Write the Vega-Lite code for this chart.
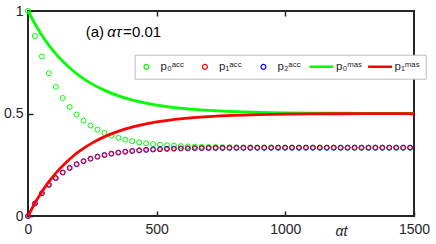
{
  "$schema": "https://vega.github.io/schema/vega-lite/v6.json",
  "width": 386,
  "height": 205,
  "autosize": {"type": "none"},
  "padding": {"left": 28, "top": 11, "right": 22, "bottom": 28},
  "background": "white",
  "config": {
    "view": {"stroke": "#262626", "strokeWidth": 2},
    "font": "Liberation Sans",
    "axis": {"grid": false, "domain": false, "tickColor": "#262626", "tickWidth": 1.5, "tickSize": -5, "labelColor": "#262626", "labelFont": "Liberation Sans", "labelFontSize": 14, "labelFlush": false, "labelOverlap": false}
  },
  "datasets": {
    "acc": [
      {"t": 0, "p0": 1, "p1": 0, "p2": 0},
      {"t": 27, "p0": 0.8778, "p1": 0.0611, "p2": 0.0611},
      {"t": 54, "p0": 0.778, "p1": 0.111, "p2": 0.111},
      {"t": 81, "p0": 0.6965, "p1": 0.1518, "p2": 0.1518},
      {"t": 108, "p0": 0.6299, "p1": 0.185, "p2": 0.185},
      {"t": 135, "p0": 0.5755, "p1": 0.2122, "p2": 0.2122},
      {"t": 162, "p0": 0.5311, "p1": 0.2344, "p2": 0.2344},
      {"t": 189, "p0": 0.4949, "p1": 0.2526, "p2": 0.2526},
      {"t": 216, "p0": 0.4653, "p1": 0.2674, "p2": 0.2674},
      {"t": 243, "p0": 0.4411, "p1": 0.2795, "p2": 0.2795},
      {"t": 270, "p0": 0.4213, "p1": 0.2893, "p2": 0.2893},
      {"t": 297, "p0": 0.4052, "p1": 0.2974, "p2": 0.2974},
      {"t": 324, "p0": 0.392, "p1": 0.304, "p2": 0.304},
      {"t": 351, "p0": 0.3813, "p1": 0.3094, "p2": 0.3094},
      {"t": 378, "p0": 0.3725, "p1": 0.3138, "p2": 0.3138},
      {"t": 405, "p0": 0.3653, "p1": 0.3173, "p2": 0.3173},
      {"t": 432, "p0": 0.3594, "p1": 0.3203, "p2": 0.3203},
      {"t": 459, "p0": 0.3547, "p1": 0.3227, "p2": 0.3227},
      {"t": 486, "p0": 0.3507, "p1": 0.3246, "p2": 0.3246},
      {"t": 513, "p0": 0.3476, "p1": 0.3262, "p2": 0.3262},
      {"t": 540, "p0": 0.3449, "p1": 0.3275, "p2": 0.3275},
      {"t": 567, "p0": 0.3428, "p1": 0.3286, "p2": 0.3286},
      {"t": 594, "p0": 0.3411, "p1": 0.3295, "p2": 0.3295},
      {"t": 621, "p0": 0.3397, "p1": 0.3302, "p2": 0.3302},
      {"t": 648, "p0": 0.3385, "p1": 0.3308, "p2": 0.3308},
      {"t": 675, "p0": 0.3376, "p1": 0.3312, "p2": 0.3312},
      {"t": 702, "p0": 0.3368, "p1": 0.3316, "p2": 0.3316},
      {"t": 729, "p0": 0.3361, "p1": 0.3319, "p2": 0.3319},
      {"t": 756, "p0": 0.3356, "p1": 0.3322, "p2": 0.3322},
      {"t": 783, "p0": 0.3352, "p1": 0.3324, "p2": 0.3324},
      {"t": 810, "p0": 0.3349, "p1": 0.3326, "p2": 0.3326},
      {"t": 837, "p0": 0.3346, "p1": 0.3327, "p2": 0.3327},
      {"t": 864, "p0": 0.3344, "p1": 0.3328, "p2": 0.3328},
      {"t": 891, "p0": 0.3342, "p1": 0.3329, "p2": 0.3329},
      {"t": 918, "p0": 0.3341, "p1": 0.333, "p2": 0.333},
      {"t": 945, "p0": 0.334, "p1": 0.3331, "p2": 0.3331},
      {"t": 972, "p0": 0.3339, "p1": 0.3331, "p2": 0.3331},
      {"t": 999, "p0": 0.3338, "p1": 0.3332, "p2": 0.3332},
      {"t": 1026, "p0": 0.3337, "p1": 0.3332, "p2": 0.3332},
      {"t": 1053, "p0": 0.3336, "p1": 0.3332, "p2": 0.3332},
      {"t": 1080, "p0": 0.3336, "p1": 0.3333, "p2": 0.3333},
      {"t": 1107, "p0": 0.3335, "p1": 0.3333, "p2": 0.3333},
      {"t": 1134, "p0": 0.3335, "p1": 0.3333, "p2": 0.3333},
      {"t": 1161, "p0": 0.3334, "p1": 0.3333, "p2": 0.3333},
      {"t": 1188, "p0": 0.3334, "p1": 0.3333, "p2": 0.3333},
      {"t": 1215, "p0": 0.3334, "p1": 0.3333, "p2": 0.3333},
      {"t": 1242, "p0": 0.3334, "p1": 0.3333, "p2": 0.3333},
      {"t": 1269, "p0": 0.3333, "p1": 0.3333, "p2": 0.3333},
      {"t": 1296, "p0": 0.3333, "p1": 0.3333, "p2": 0.3333},
      {"t": 1323, "p0": 0.3333, "p1": 0.3333, "p2": 0.3333},
      {"t": 1350, "p0": 0.3333, "p1": 0.3333, "p2": 0.3333},
      {"t": 1377, "p0": 0.3333, "p1": 0.3333, "p2": 0.3333},
      {"t": 1404, "p0": 0.3333, "p1": 0.3333, "p2": 0.3333},
      {"t": 1431, "p0": 0.3333, "p1": 0.3333, "p2": 0.3333},
      {"t": 1458, "p0": 0.3333, "p1": 0.3333, "p2": 0.3333},
      {"t": 1485, "p0": 0.3333, "p1": 0.3333, "p2": 0.3333}
    ],
    "mas": [
      {"t": 0, "m0": 1, "m1": 0},
      {"t": 25, "m0": 0.9413, "m1": 0.0588},
      {"t": 50, "m0": 0.8894, "m1": 0.1106},
      {"t": 75, "m0": 0.8436, "m1": 0.1564},
      {"t": 100, "m0": 0.8033, "m1": 0.1967},
      {"t": 125, "m0": 0.7676, "m1": 0.2324},
      {"t": 150, "m0": 0.7362, "m1": 0.2638},
      {"t": 175, "m0": 0.7084, "m1": 0.2916},
      {"t": 200, "m0": 0.6839, "m1": 0.3161},
      {"t": 250, "m0": 0.6433, "m1": 0.3567},
      {"t": 300, "m0": 0.6116, "m1": 0.3884},
      {"t": 350, "m0": 0.5869, "m1": 0.4131},
      {"t": 400, "m0": 0.5677, "m1": 0.4323},
      {"t": 450, "m0": 0.5527, "m1": 0.4473},
      {"t": 500, "m0": 0.541, "m1": 0.459},
      {"t": 600, "m0": 0.5249, "m1": 0.4751},
      {"t": 700, "m0": 0.5151, "m1": 0.4849},
      {"t": 800, "m0": 0.5092, "m1": 0.4908},
      {"t": 900, "m0": 0.5056, "m1": 0.4944},
      {"t": 1000, "m0": 0.5034, "m1": 0.4966},
      {"t": 1100, "m0": 0.502, "m1": 0.498},
      {"t": 1200, "m0": 0.5012, "m1": 0.4988},
      {"t": 1300, "m0": 0.5008, "m1": 0.4992},
      {"t": 1400, "m0": 0.5005, "m1": 0.4995},
      {"t": 1500, "m0": 0.5003, "m1": 0.4997}
    ],
    "ann": [{"t": 260, "p": 0.898}]
  },
  "layer": [
    {
      "data": {"name": "acc"},
      "mark": {"type": "point", "filled": false, "size": 25, "strokeWidth": 1, "opacity": 1},
      "encoding": {
        "x": {"field": "t", "type": "quantitative", "scale": {"domain": [0, 1500], "nice": false, "zero": false},
          "axis": {"orient": "bottom", "values": [0, 500, 1000, 1500], "format": "d", "labelPadding": 11, "title": "αt", "titleFont": "Liberation Sans", "titleFontStyle": "italic", "titleFontWeight": "normal", "titleFontSize": 14, "titleColor": "#262626", "titleX": 313, "titleY": 15, "titleBaseline": "middle", "titleAlign": "center"}},
        "y": {"field": "p0", "type": "quantitative", "scale": {"domain": [0, 1], "nice": false},
          "axis": {"orient": "left", "values": [0, 0.5, 1], "format": "~g", "labelPadding": 10, "title": null}},
        "shape": {"datum": "p0acc", "type": "nominal",
          "scale": {"domain": ["p0acc", "p1acc", "p2acc", "p0mas", "p1mas"], "range": ["circle", "circle", "circle", "M-4.7,-0.25H4.4V0.25H-4.7Z", "M-4.7,-0.25H4.4V0.25H-4.7Z"]}},
        "color": {"datum": "p0acc", "type": "nominal",
          "scale": {"domain": ["p0acc", "p1acc", "p2acc", "p0mas", "p1mas"], "range": ["#00ff00", "#ff0000", "#0000ff", "#00ff00", "#ff0000"]},
          "legend": {
            "orient": "none", "legendX": 106.7, "legendY": 43.7, "direction": "horizontal", "columns": 5, "gridAlign": "all", "title": null,
            "symbolSize": 25, "symbolStrokeWidth": 1.2, "labelOffset": 8.3, "columnPadding": 3.5, "padding": 6,
            "strokeColor": "#bdbdbd", "fillColor": "#ffffff",
            "labelFont": "Liberation Sans", "labelFontSize": 11.5, "labelColor": "#262626",
            "labelExpr": "datum.label == 'p0acc' ? 'p₀ᵃᶜᶜ' : datum.label == 'p1acc' ? 'p₁ᵃᶜᶜ' : datum.label == 'p2acc' ? 'p₂ᵃᶜᶜ' : datum.label == 'p0mas' ? 'p₀ᵐᵃˢ' : 'p₁ᵐᵃˢ'"
          }
        }
      }
    },
    {
      "data": {"name": "acc"},
      "mark": {"type": "point", "filled": false, "size": 25, "strokeWidth": 1, "opacity": 1},
      "encoding": {
        "x": {"field": "t", "type": "quantitative", "axis": null},
        "y": {"field": "p2", "type": "quantitative", "axis": null},
        "shape": {"datum": "p2acc", "type": "nominal"},
        "color": {"datum": "p2acc", "type": "nominal"}
      }
    },
    {
      "data": {"name": "acc"},
      "mark": {"type": "point", "filled": false, "size": 16, "strokeWidth": 1, "opacity": 1},
      "encoding": {
        "x": {"field": "t", "type": "quantitative", "axis": null},
        "y": {"field": "p1", "type": "quantitative", "axis": null},
        "shape": {"datum": "p1acc", "type": "nominal"},
        "color": {"datum": "p1acc", "type": "nominal"}
      }
    },
    {
      "data": {"name": "mas"},
      "mark": {"type": "line", "interpolate": "monotone", "strokeWidth": 2.8},
      "encoding": {
        "x": {"field": "t", "type": "quantitative", "axis": null},
        "y": {"field": "m0", "type": "quantitative", "axis": null},
        "color": {"datum": "p0mas", "type": "nominal"}
      }
    },
    {
      "data": {"name": "mas"},
      "mark": {"type": "line", "interpolate": "monotone", "strokeWidth": 2.8},
      "encoding": {
        "x": {"field": "t", "type": "quantitative", "axis": {"orient": "top", "values": [500, 1000], "labels": false, "title": null}},
        "y": {"field": "m1", "type": "quantitative", "axis": {"orient": "right", "values": [0.5], "labels": false, "title": null}},
        "color": {"datum": "p1mas", "type": "nominal"}
      }
    },
    {
      "data": {"name": "ann"},
      "mark": {"type": "text", "text": "(a)", "align": "center", "baseline": "middle", "font": "Liberation Sans", "fontSize": 15, "color": "#000000"},
      "encoding": {
        "x": {"field": "t", "type": "quantitative", "axis": null},
        "y": {"field": "p", "type": "quantitative", "axis": null}
      }
    },
    {
      "data": {"name": "ann"},
      "mark": {"type": "text", "text": "ατ", "align": "center", "baseline": "middle", "dx": 19.5, "font": "Liberation Sans", "fontStyle": "italic", "fontSize": 15, "color": "#000000"},
      "encoding": {
        "x": {"field": "t", "type": "quantitative", "axis": null},
        "y": {"field": "p", "type": "quantitative", "axis": null}
      }
    },
    {
      "data": {"name": "ann"},
      "mark": {"type": "text", "text": "=0.01", "align": "center", "baseline": "middle", "dx": 47.2, "font": "Liberation Sans", "fontSize": 15, "color": "#000000"},
      "encoding": {
        "x": {"field": "t", "type": "quantitative", "axis": null},
        "y": {"field": "p", "type": "quantitative", "axis": null}
      }
    }
  ],
  "resolve": {"axis": {"x": "independent", "y": "independent"}}
}
